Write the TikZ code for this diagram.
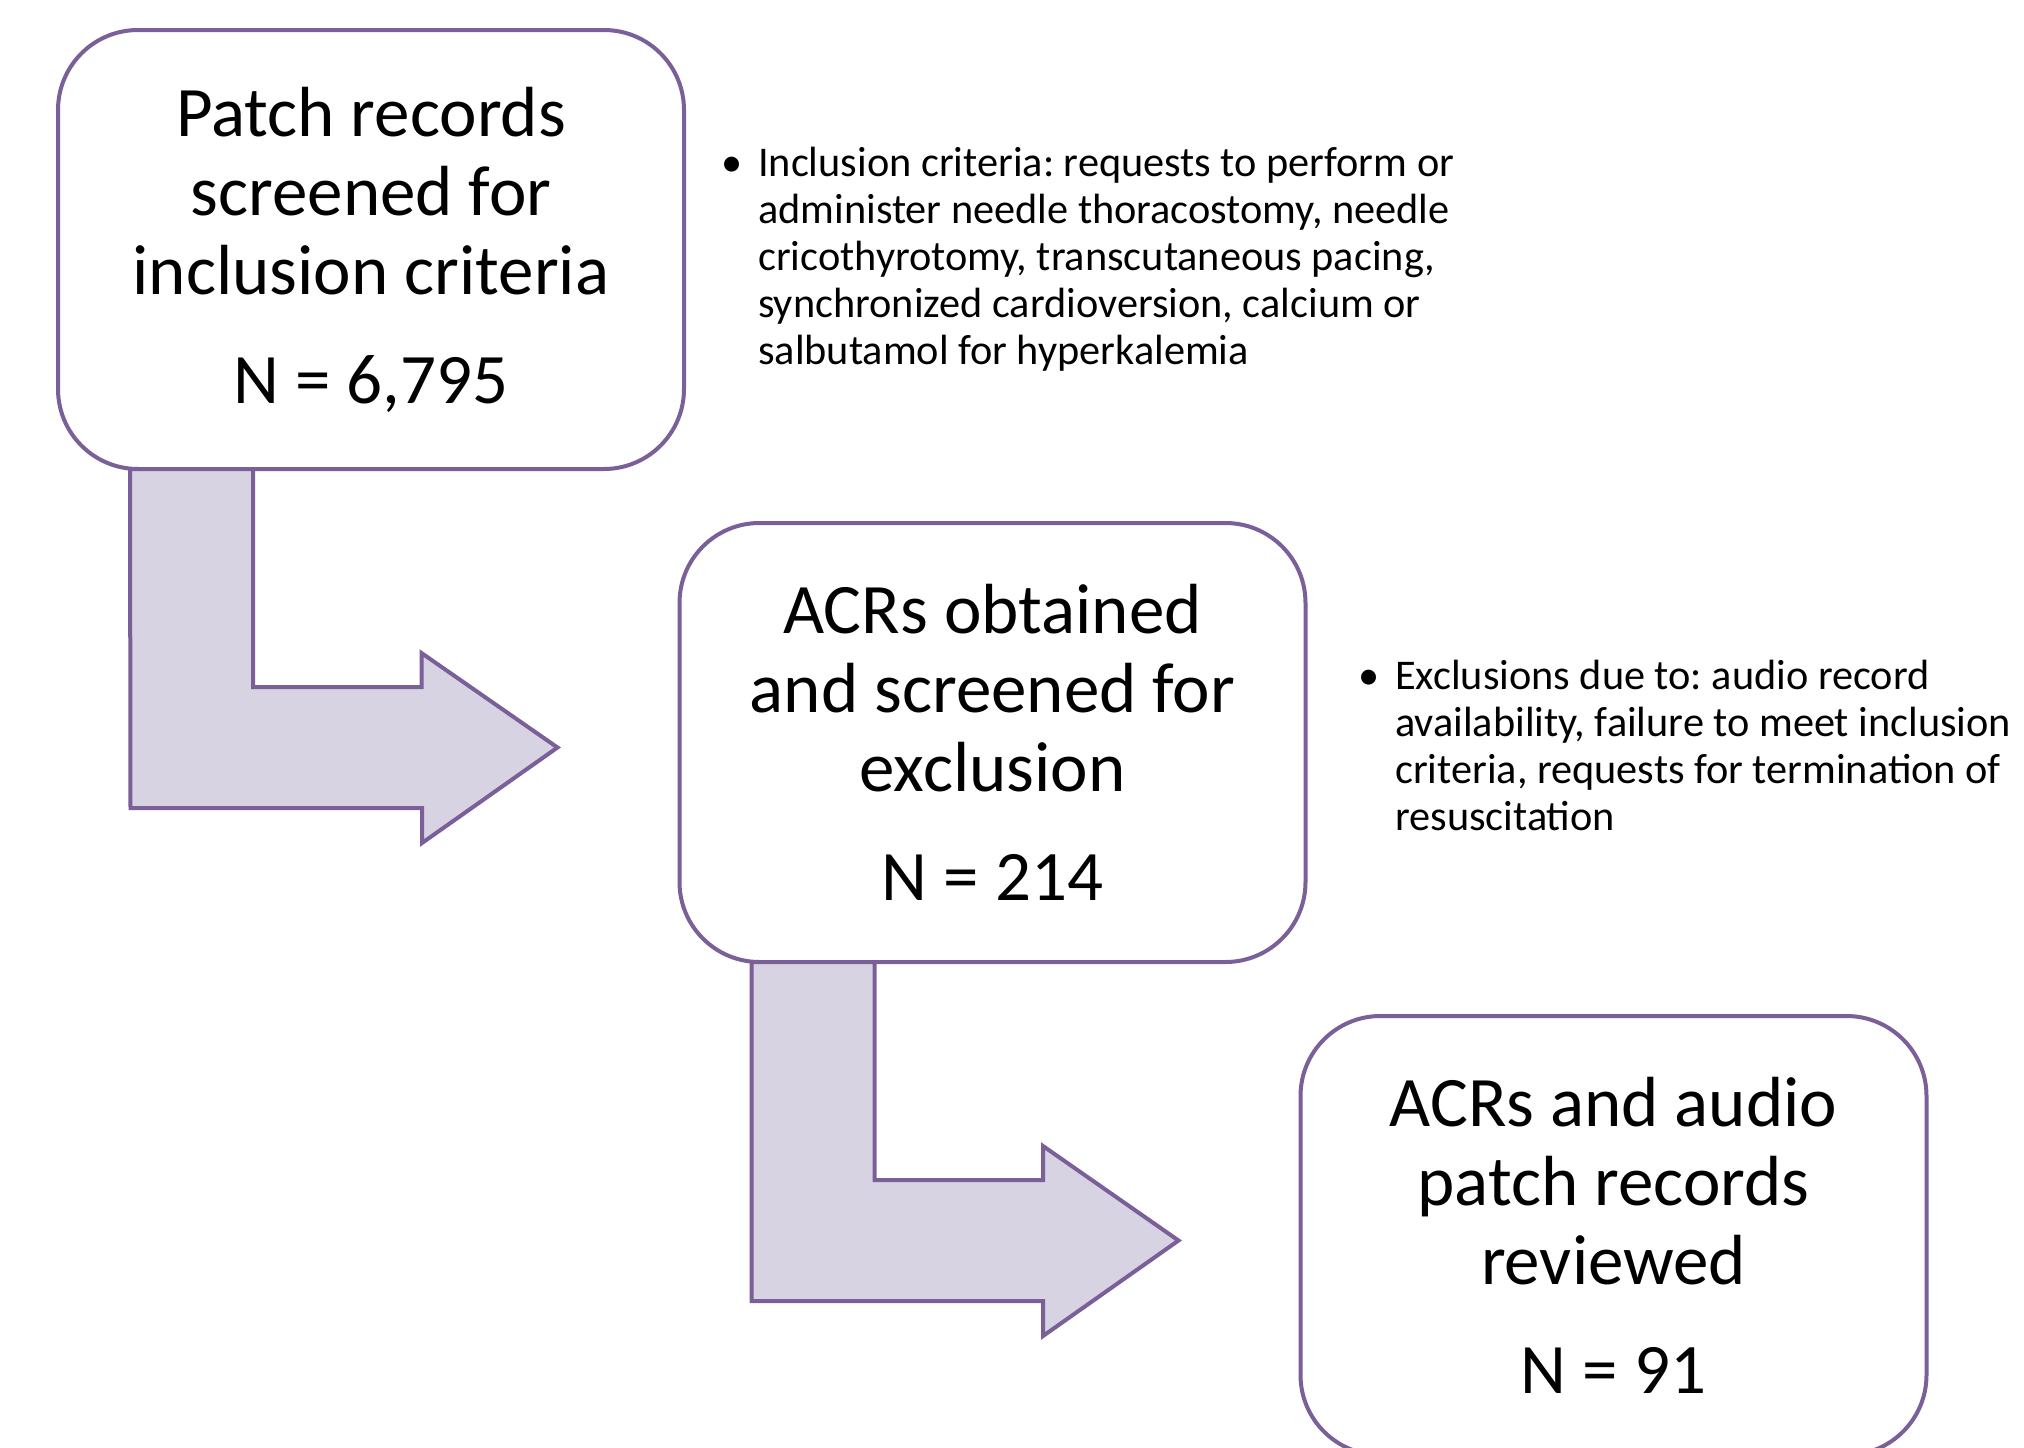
\documentclass[tikz,border=0pt]{standalone}
\usepackage{fontspec}
\setmainfont{Carlito}
\usetikzlibrary{calc}
\definecolor{boxline}{RGB}{122,95,152}
\definecolor{arrowfill}{RGB}{216,211,226}
\frenchspacing

\begin{document}
\begin{tikzpicture}
[x=1pt, y=-1pt, every node/.style={inner sep=0pt},
 stage/.style={draw=boxline, line width=4pt, fill=white, rounded corners=80pt, outer sep=0pt, minimum width=626pt, minimum height=439pt, align=center, font=\fontsize{71}{79}\selectfont},
 note/.style={anchor=north west, align=left, font=\fontsize{42.3}{47}\selectfont},
 bent/.style={draw=boxline, line width=4pt, fill=arrowfill, line join=miter}]
\useasboundingbox (0,0) rectangle (2024,1448);
\node (patch) [stage] at (371, 249.5) {Patch records\\screened for\\inclusion criteria\\[30pt]N = 6,795};
\node (acr) [stage] at (992.5, 742.5) {ACRs obtained\\and screened for\\exclusion\\[30pt]N = 214};
\node (audio) [stage] at (1613.5, 1235.5) {ACRs and audio\\patch records\\reviewed\\[30pt]N = 91};
\node (incl) [note] at (758, 147) {\llap{\textbullet\hspace{16pt}}Inclusion criteria: requests to perform or\\administer needle thoracostomy, needle\\cricothyrotomy, transcutaneous pacing,\\synchronized cardioversion, calcium or\\salbutamol for hyperkalemia};
\node (excl) [note] at (1395, 660) {\llap{\textbullet\hspace{16pt}}Exclusions due to: audio record\\availability, failure to meet inclusion\\criteria, requests for termination of\\resuscitation};
\draw [bent] ($(patch.south west)+(72,0)$) -- ++(123,0) -- ++(0,218) -- ++(168.5,0) -- ++(0,-34) -- ($(acr.west)+(-122,5)$) -- ++(-135.5,95.5) -- ++(0,-35) -- ++(-291.5,0) -- cycle;
\draw [bent] ($(acr.south west)+(72,0)$) -- ++(123,0) -- ++(0,218) -- ++(168.5,0) -- ++(0,-34) -- ($(audio.west)+(-122,5)$) -- ++(-135.5,95.5) -- ++(0,-35) -- ++(-291.5,0) -- cycle;
\end{tikzpicture}
\end{document}
